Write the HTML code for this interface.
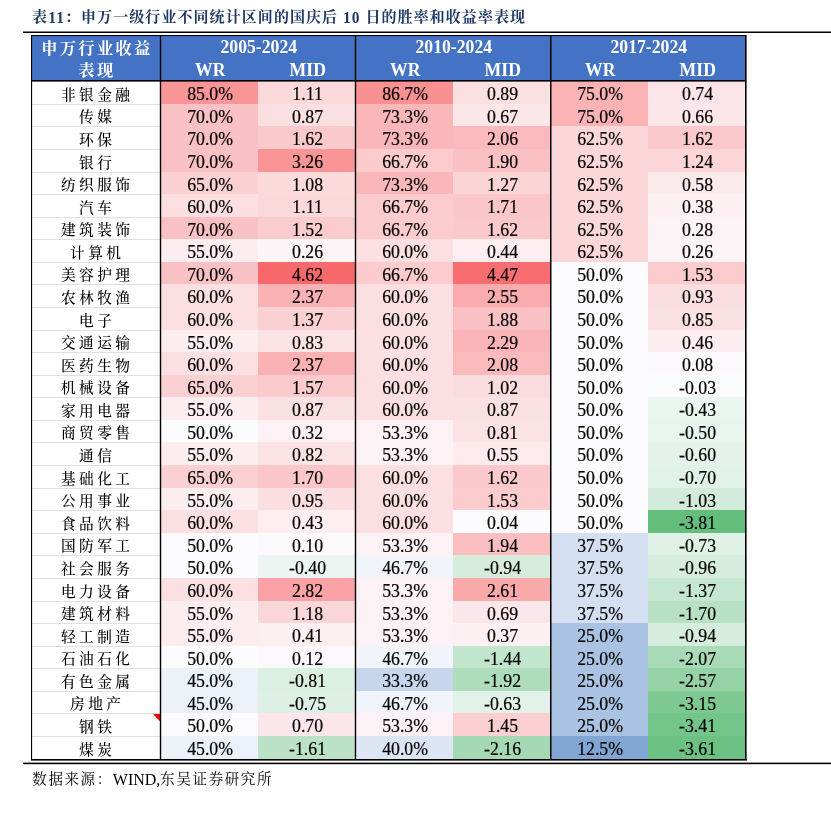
<!DOCTYPE html>
<html lang="zh-CN"><head><meta charset="utf-8"><title>表11</title>
<style>
html,body{margin:0;padding:0;background:#fff;}
body{width:831px;height:822px;position:relative;overflow:hidden;font-family:"Liberation Serif","Noto Serif CJK SC",serif;color:#000;}
.a{position:absolute;}
.title{left:32.1px;top:7.1px;font-size:15px;font-weight:700;color:#1f3864;white-space:nowrap;line-height:20px;letter-spacing:1.07px;}
.c{position:absolute;text-align:center;white-space:nowrap;font-size:17.8px;-webkit-text-stroke:0.2px #000;}
.c span{display:inline-block;position:relative;left:1.1px;top:2.0px;transform:scaleY(1.03);}
.n{position:absolute;text-align:center;white-space:nowrap;font-size:14.7px;letter-spacing:3.45px;background:#fff;font-weight:500;}
.n span{margin-right:-3.45px;display:inline-block;position:relative;top:3px;}
.h{position:absolute;background:#4472c4;}
.ht{position:absolute;color:#fff;font-weight:bold;text-align:center;white-space:nowrap;font-size:17.7px;line-height:20px;height:20px;}
.hc{font-size:16.3px;letter-spacing:2.3px;}
.hc span{margin-right:-2.3px;}
.ht .s{display:inline-block;transform:scaleY(1.06);}
.l{position:absolute;background:#000;}
.g{position:absolute;background:#e0e0e0;height:1px;}
.title .d{display:inline-block;position:relative;top:0.9px;font-size:15.5px;transform:scaleY(1.13);transform-origin:50% 78%;}
.src{left:32.3px;top:769.4px;font-size:14.5px;line-height:20px;white-space:nowrap;letter-spacing:1.6px;}
.src .w{font-size:16px;letter-spacing:0;position:relative;top:0.6px;}
</style></head><body>

<div class="a title">表<span class="d">11</span>：申万一级行业不同统计区间的国庆后 <span class="d">10</span> 日的胜率和收益率表现</div>
<div class="l" style="left:23px;top:31px;width:808px;height:1px;opacity:0.5"></div>
<div class="l" style="left:23px;top:32px;width:808px;height:1px"></div>
<div class="h" style="left:31px;top:35px;width:715px;height:46px"></div>
<div class="ht hc" style="left:31.3px;top:39px;width:129px"><span>申万行业收益</span></div>
<div class="ht hc" style="left:31.3px;top:61.2px;width:129px"><span>表现</span></div>
<div class="ht" style="left:161.3px;top:36.6px;width:195px"><span class="s">2005-2024</span></div>
<div class="ht" style="left:161.3px;top:59.599999999999994px;width:98px"><span class="s">WR</span></div>
<div class="ht" style="left:259.3px;top:59.599999999999994px;width:97px"><span class="s">MID</span></div>
<div class="ht" style="left:356.3px;top:36.6px;width:195px"><span class="s">2010-2024</span></div>
<div class="ht" style="left:356.3px;top:59.599999999999994px;width:98px"><span class="s">WR</span></div>
<div class="ht" style="left:454.3px;top:59.599999999999994px;width:97px"><span class="s">MID</span></div>
<div class="ht" style="left:551.3px;top:36.6px;width:195px"><span class="s">2017-2024</span></div>
<div class="ht" style="left:551.3px;top:59.599999999999994px;width:98px"><span class="s">WR</span></div>
<div class="ht" style="left:649.3px;top:59.599999999999994px;width:97px"><span class="s">MID</span></div>
<div class="n" style="left:31px;top:81px;width:129px;height:23px;line-height:22px"><span>非银金融</span></div>
<div class="c" style="left:160px;top:81px;width:98px;height:23px;line-height:23px;background:rgb(249,149,151)"><span>85.0%</span></div>
<div class="c" style="left:258px;top:81px;width:97px;height:23px;line-height:23px;background:rgb(251,217,219)"><span>1.11</span></div>
<div class="c" style="left:355px;top:81px;width:98px;height:23px;line-height:23px;background:rgb(249,144,146)"><span>86.7%</span></div>
<div class="c" style="left:453px;top:81px;width:97px;height:23px;line-height:23px;background:rgb(251,224,226)"><span>0.89</span></div>
<div class="c" style="left:550px;top:81px;width:98px;height:23px;line-height:23px;background:rgb(250,178,181)"><span>75.0%</span></div>
<div class="c" style="left:648px;top:81px;width:97px;height:23px;line-height:23px;background:rgb(251,228,231)"><span>0.74</span></div>
<div class="n" style="left:31px;top:104px;width:129px;height:22px;line-height:21px"><span>传媒</span></div>
<div class="c" style="left:160px;top:104px;width:98px;height:22px;line-height:22px;background:rgb(250,193,196)"><span>70.0%</span></div>
<div class="c" style="left:258px;top:104px;width:97px;height:22px;line-height:22px;background:rgb(251,224,227)"><span>0.87</span></div>
<div class="c" style="left:355px;top:104px;width:98px;height:22px;line-height:22px;background:rgb(250,183,186)"><span>73.3%</span></div>
<div class="c" style="left:453px;top:104px;width:97px;height:22px;line-height:22px;background:rgb(251,231,234)"><span>0.67</span></div>
<div class="c" style="left:550px;top:104px;width:98px;height:22px;line-height:22px;background:rgb(250,178,181)"><span>75.0%</span></div>
<div class="c" style="left:648px;top:104px;width:97px;height:22px;line-height:22px;background:rgb(251,231,234)"><span>0.66</span></div>
<div class="n" style="left:31px;top:126px;width:129px;height:23px;line-height:22px"><span>环保</span></div>
<div class="c" style="left:160px;top:126px;width:98px;height:23px;line-height:23px;background:rgb(250,193,196)"><span>70.0%</span></div>
<div class="c" style="left:258px;top:126px;width:97px;height:23px;line-height:23px;background:rgb(251,200,203)"><span>1.62</span></div>
<div class="c" style="left:355px;top:126px;width:98px;height:23px;line-height:23px;background:rgb(250,183,186)"><span>73.3%</span></div>
<div class="c" style="left:453px;top:126px;width:97px;height:23px;line-height:23px;background:rgb(250,186,189)"><span>2.06</span></div>
<div class="c" style="left:550px;top:126px;width:98px;height:23px;line-height:23px;background:rgb(251,215,218)"><span>62.5%</span></div>
<div class="c" style="left:648px;top:126px;width:97px;height:23px;line-height:23px;background:rgb(251,200,203)"><span>1.62</span></div>
<div class="n" style="left:31px;top:149px;width:129px;height:23px;line-height:22px"><span>银行</span></div>
<div class="c" style="left:160px;top:149px;width:98px;height:23px;line-height:23px;background:rgb(250,193,196)"><span>70.0%</span></div>
<div class="c" style="left:258px;top:149px;width:97px;height:23px;line-height:23px;background:rgb(249,148,151)"><span>3.26</span></div>
<div class="c" style="left:355px;top:149px;width:98px;height:23px;line-height:23px;background:rgb(251,203,206)"><span>66.7%</span></div>
<div class="c" style="left:453px;top:149px;width:97px;height:23px;line-height:23px;background:rgb(250,192,194)"><span>1.90</span></div>
<div class="c" style="left:550px;top:149px;width:98px;height:23px;line-height:23px;background:rgb(251,215,218)"><span>62.5%</span></div>
<div class="c" style="left:648px;top:149px;width:97px;height:23px;line-height:23px;background:rgb(251,213,215)"><span>1.24</span></div>
<div class="n" style="left:31px;top:172px;width:129px;height:22px;line-height:21px"><span>纺织服饰</span></div>
<div class="c" style="left:160px;top:172px;width:98px;height:22px;line-height:22px;background:rgb(251,208,211)"><span>65.0%</span></div>
<div class="c" style="left:258px;top:172px;width:97px;height:22px;line-height:22px;background:rgb(251,218,220)"><span>1.08</span></div>
<div class="c" style="left:355px;top:172px;width:98px;height:22px;line-height:22px;background:rgb(250,183,186)"><span>73.3%</span></div>
<div class="c" style="left:453px;top:172px;width:97px;height:22px;line-height:22px;background:rgb(251,212,214)"><span>1.27</span></div>
<div class="c" style="left:550px;top:172px;width:98px;height:22px;line-height:22px;background:rgb(251,215,218)"><span>62.5%</span></div>
<div class="c" style="left:648px;top:172px;width:97px;height:22px;line-height:22px;background:rgb(251,234,236)"><span>0.58</span></div>
<div class="n" style="left:31px;top:194px;width:129px;height:23px;line-height:22px"><span>汽车</span></div>
<div class="c" style="left:160px;top:194px;width:98px;height:23px;line-height:23px;background:rgb(251,223,225)"><span>60.0%</span></div>
<div class="c" style="left:258px;top:194px;width:97px;height:23px;line-height:23px;background:rgb(251,217,219)"><span>1.11</span></div>
<div class="c" style="left:355px;top:194px;width:98px;height:23px;line-height:23px;background:rgb(251,203,206)"><span>66.7%</span></div>
<div class="c" style="left:453px;top:194px;width:97px;height:23px;line-height:23px;background:rgb(251,198,200)"><span>1.71</span></div>
<div class="c" style="left:550px;top:194px;width:98px;height:23px;line-height:23px;background:rgb(251,215,218)"><span>62.5%</span></div>
<div class="c" style="left:648px;top:194px;width:97px;height:23px;line-height:23px;background:rgb(252,240,243)"><span>0.38</span></div>
<div class="n" style="left:31px;top:217px;width:129px;height:22px;line-height:21px"><span>建筑装饰</span></div>
<div class="c" style="left:160px;top:217px;width:98px;height:22px;line-height:22px;background:rgb(250,193,196)"><span>70.0%</span></div>
<div class="c" style="left:258px;top:217px;width:97px;height:22px;line-height:22px;background:rgb(251,204,206)"><span>1.52</span></div>
<div class="c" style="left:355px;top:217px;width:98px;height:22px;line-height:22px;background:rgb(251,203,206)"><span>66.7%</span></div>
<div class="c" style="left:453px;top:217px;width:97px;height:22px;line-height:22px;background:rgb(251,200,203)"><span>1.62</span></div>
<div class="c" style="left:550px;top:217px;width:98px;height:22px;line-height:22px;background:rgb(251,215,218)"><span>62.5%</span></div>
<div class="c" style="left:648px;top:217px;width:97px;height:22px;line-height:22px;background:rgb(252,243,246)"><span>0.28</span></div>
<div class="n" style="left:31px;top:239px;width:129px;height:23px;line-height:22px"><span>计算机</span></div>
<div class="c" style="left:160px;top:239px;width:98px;height:23px;line-height:23px;background:rgb(252,237,240)"><span>55.0%</span></div>
<div class="c" style="left:258px;top:239px;width:97px;height:23px;line-height:23px;background:rgb(252,244,247)"><span>0.26</span></div>
<div class="c" style="left:355px;top:239px;width:98px;height:23px;line-height:23px;background:rgb(251,223,225)"><span>60.0%</span></div>
<div class="c" style="left:453px;top:239px;width:97px;height:23px;line-height:23px;background:rgb(252,238,241)"><span>0.44</span></div>
<div class="c" style="left:550px;top:239px;width:98px;height:23px;line-height:23px;background:rgb(251,215,218)"><span>62.5%</span></div>
<div class="c" style="left:648px;top:239px;width:97px;height:23px;line-height:23px;background:rgb(252,244,247)"><span>0.26</span></div>
<div class="n" style="left:31px;top:262px;width:129px;height:22px;line-height:21px"><span>美容护理</span></div>
<div class="c" style="left:160px;top:262px;width:98px;height:22px;line-height:22px;background:rgb(250,193,196)"><span>70.0%</span></div>
<div class="c" style="left:258px;top:262px;width:97px;height:22px;line-height:22px;background:rgb(248,105,107)"><span>4.62</span></div>
<div class="c" style="left:355px;top:262px;width:98px;height:22px;line-height:22px;background:rgb(251,203,206)"><span>66.7%</span></div>
<div class="c" style="left:453px;top:262px;width:97px;height:22px;line-height:22px;background:rgb(248,110,112)"><span>4.47</span></div>
<div class="c" style="left:550px;top:262px;width:98px;height:22px;line-height:22px;background:rgb(252,252,255)"><span>50.0%</span></div>
<div class="c" style="left:648px;top:262px;width:97px;height:22px;line-height:22px;background:rgb(251,203,206)"><span>1.53</span></div>
<div class="n" style="left:31px;top:284px;width:129px;height:23px;line-height:22px"><span>农林牧渔</span></div>
<div class="c" style="left:160px;top:284px;width:98px;height:23px;line-height:23px;background:rgb(251,223,225)"><span>60.0%</span></div>
<div class="c" style="left:258px;top:284px;width:97px;height:23px;line-height:23px;background:rgb(250,177,179)"><span>2.37</span></div>
<div class="c" style="left:355px;top:284px;width:98px;height:23px;line-height:23px;background:rgb(251,223,225)"><span>60.0%</span></div>
<div class="c" style="left:453px;top:284px;width:97px;height:23px;line-height:23px;background:rgb(250,171,173)"><span>2.55</span></div>
<div class="c" style="left:550px;top:284px;width:98px;height:23px;line-height:23px;background:rgb(252,252,255)"><span>50.0%</span></div>
<div class="c" style="left:648px;top:284px;width:97px;height:23px;line-height:23px;background:rgb(251,222,225)"><span>0.93</span></div>
<div class="n" style="left:31px;top:307px;width:129px;height:23px;line-height:22px"><span>电子</span></div>
<div class="c" style="left:160px;top:307px;width:98px;height:23px;line-height:23px;background:rgb(251,223,225)"><span>60.0%</span></div>
<div class="c" style="left:258px;top:307px;width:97px;height:23px;line-height:23px;background:rgb(251,208,211)"><span>1.37</span></div>
<div class="c" style="left:355px;top:307px;width:98px;height:23px;line-height:23px;background:rgb(251,223,225)"><span>60.0%</span></div>
<div class="c" style="left:453px;top:307px;width:97px;height:23px;line-height:23px;background:rgb(250,192,195)"><span>1.88</span></div>
<div class="c" style="left:550px;top:307px;width:98px;height:23px;line-height:23px;background:rgb(252,252,255)"><span>50.0%</span></div>
<div class="c" style="left:648px;top:307px;width:97px;height:23px;line-height:23px;background:rgb(251,225,228)"><span>0.85</span></div>
<div class="n" style="left:31px;top:330px;width:129px;height:22px;line-height:21px"><span>交通运输</span></div>
<div class="c" style="left:160px;top:330px;width:98px;height:22px;line-height:22px;background:rgb(252,237,240)"><span>55.0%</span></div>
<div class="c" style="left:258px;top:330px;width:97px;height:22px;line-height:22px;background:rgb(251,226,228)"><span>0.83</span></div>
<div class="c" style="left:355px;top:330px;width:98px;height:22px;line-height:22px;background:rgb(251,223,225)"><span>60.0%</span></div>
<div class="c" style="left:453px;top:330px;width:97px;height:22px;line-height:22px;background:rgb(250,179,182)"><span>2.29</span></div>
<div class="c" style="left:550px;top:330px;width:98px;height:22px;line-height:22px;background:rgb(252,252,255)"><span>50.0%</span></div>
<div class="c" style="left:648px;top:330px;width:97px;height:22px;line-height:22px;background:rgb(252,237,240)"><span>0.46</span></div>
<div class="n" style="left:31px;top:352px;width:129px;height:23px;line-height:22px"><span>医药生物</span></div>
<div class="c" style="left:160px;top:352px;width:98px;height:23px;line-height:23px;background:rgb(251,223,225)"><span>60.0%</span></div>
<div class="c" style="left:258px;top:352px;width:97px;height:23px;line-height:23px;background:rgb(250,177,179)"><span>2.37</span></div>
<div class="c" style="left:355px;top:352px;width:98px;height:23px;line-height:23px;background:rgb(251,223,225)"><span>60.0%</span></div>
<div class="c" style="left:453px;top:352px;width:97px;height:23px;line-height:23px;background:rgb(250,186,188)"><span>2.08</span></div>
<div class="c" style="left:550px;top:352px;width:98px;height:23px;line-height:23px;background:rgb(252,252,255)"><span>50.0%</span></div>
<div class="c" style="left:648px;top:352px;width:97px;height:23px;line-height:23px;background:rgb(252,249,252)"><span>0.08</span></div>
<div class="n" style="left:31px;top:375px;width:129px;height:22px;line-height:21px"><span>机械设备</span></div>
<div class="c" style="left:160px;top:375px;width:98px;height:22px;line-height:22px;background:rgb(251,208,211)"><span>65.0%</span></div>
<div class="c" style="left:258px;top:375px;width:97px;height:22px;line-height:22px;background:rgb(251,202,205)"><span>1.57</span></div>
<div class="c" style="left:355px;top:375px;width:98px;height:22px;line-height:22px;background:rgb(251,223,225)"><span>60.0%</span></div>
<div class="c" style="left:453px;top:375px;width:97px;height:22px;line-height:22px;background:rgb(251,220,222)"><span>1.02</span></div>
<div class="c" style="left:550px;top:375px;width:98px;height:22px;line-height:22px;background:rgb(252,252,255)"><span>50.0%</span></div>
<div class="c" style="left:648px;top:375px;width:97px;height:22px;line-height:22px;background:rgb(251,252,254)"><span>-0.03</span></div>
<div class="n" style="left:31px;top:397px;width:129px;height:23px;line-height:22px"><span>家用电器</span></div>
<div class="c" style="left:160px;top:397px;width:98px;height:23px;line-height:23px;background:rgb(252,237,240)"><span>55.0%</span></div>
<div class="c" style="left:258px;top:397px;width:97px;height:23px;line-height:23px;background:rgb(251,224,227)"><span>0.87</span></div>
<div class="c" style="left:355px;top:397px;width:98px;height:23px;line-height:23px;background:rgb(251,223,225)"><span>60.0%</span></div>
<div class="c" style="left:453px;top:397px;width:97px;height:23px;line-height:23px;background:rgb(251,224,227)"><span>0.87</span></div>
<div class="c" style="left:550px;top:397px;width:98px;height:23px;line-height:23px;background:rgb(252,252,255)"><span>50.0%</span></div>
<div class="c" style="left:648px;top:397px;width:97px;height:23px;line-height:23px;background:rgb(235,245,240)"><span>-0.43</span></div>
<div class="n" style="left:31px;top:420px;width:129px;height:22px;line-height:21px"><span>商贸零售</span></div>
<div class="c" style="left:160px;top:420px;width:98px;height:22px;line-height:22px;background:rgb(252,252,255)"><span>50.0%</span></div>
<div class="c" style="left:258px;top:420px;width:97px;height:22px;line-height:22px;background:rgb(252,242,245)"><span>0.32</span></div>
<div class="c" style="left:355px;top:420px;width:98px;height:22px;line-height:22px;background:rgb(252,242,245)"><span>53.3%</span></div>
<div class="c" style="left:453px;top:420px;width:97px;height:22px;line-height:22px;background:rgb(251,226,229)"><span>0.81</span></div>
<div class="c" style="left:550px;top:420px;width:98px;height:22px;line-height:22px;background:rgb(252,252,255)"><span>50.0%</span></div>
<div class="c" style="left:648px;top:420px;width:97px;height:22px;line-height:22px;background:rgb(232,244,238)"><span>-0.50</span></div>
<div class="n" style="left:31px;top:442px;width:129px;height:23px;line-height:22px"><span>通信</span></div>
<div class="c" style="left:160px;top:442px;width:98px;height:23px;line-height:23px;background:rgb(252,237,240)"><span>55.0%</span></div>
<div class="c" style="left:258px;top:442px;width:97px;height:23px;line-height:23px;background:rgb(251,226,229)"><span>0.82</span></div>
<div class="c" style="left:355px;top:442px;width:98px;height:23px;line-height:23px;background:rgb(252,242,245)"><span>53.3%</span></div>
<div class="c" style="left:453px;top:442px;width:97px;height:23px;line-height:23px;background:rgb(252,234,237)"><span>0.55</span></div>
<div class="c" style="left:550px;top:442px;width:98px;height:23px;line-height:23px;background:rgb(252,252,255)"><span>50.0%</span></div>
<div class="c" style="left:648px;top:442px;width:97px;height:23px;line-height:23px;background:rgb(228,242,234)"><span>-0.60</span></div>
<div class="n" style="left:31px;top:465px;width:129px;height:23px;line-height:22px"><span>基础化工</span></div>
<div class="c" style="left:160px;top:465px;width:98px;height:23px;line-height:23px;background:rgb(251,208,211)"><span>65.0%</span></div>
<div class="c" style="left:258px;top:465px;width:97px;height:23px;line-height:23px;background:rgb(251,198,201)"><span>1.70</span></div>
<div class="c" style="left:355px;top:465px;width:98px;height:23px;line-height:23px;background:rgb(251,223,225)"><span>60.0%</span></div>
<div class="c" style="left:453px;top:465px;width:97px;height:23px;line-height:23px;background:rgb(251,200,203)"><span>1.62</span></div>
<div class="c" style="left:550px;top:465px;width:98px;height:23px;line-height:23px;background:rgb(252,252,255)"><span>50.0%</span></div>
<div class="c" style="left:648px;top:465px;width:97px;height:23px;line-height:23px;background:rgb(224,241,231)"><span>-0.70</span></div>
<div class="n" style="left:31px;top:488px;width:129px;height:22px;line-height:21px"><span>公用事业</span></div>
<div class="c" style="left:160px;top:488px;width:98px;height:22px;line-height:22px;background:rgb(252,237,240)"><span>55.0%</span></div>
<div class="c" style="left:258px;top:488px;width:97px;height:22px;line-height:22px;background:rgb(251,222,225)"><span>0.95</span></div>
<div class="c" style="left:355px;top:488px;width:98px;height:22px;line-height:22px;background:rgb(251,223,225)"><span>60.0%</span></div>
<div class="c" style="left:453px;top:488px;width:97px;height:22px;line-height:22px;background:rgb(251,203,206)"><span>1.53</span></div>
<div class="c" style="left:550px;top:488px;width:98px;height:22px;line-height:22px;background:rgb(252,252,255)"><span>50.0%</span></div>
<div class="c" style="left:648px;top:488px;width:97px;height:22px;line-height:22px;background:rgb(211,235,219)"><span>-1.03</span></div>
<div class="n" style="left:31px;top:510px;width:129px;height:23px;line-height:22px"><span>食品饮料</span></div>
<div class="c" style="left:160px;top:510px;width:98px;height:23px;line-height:23px;background:rgb(251,223,225)"><span>60.0%</span></div>
<div class="c" style="left:258px;top:510px;width:97px;height:23px;line-height:23px;background:rgb(252,238,241)"><span>0.43</span></div>
<div class="c" style="left:355px;top:510px;width:98px;height:23px;line-height:23px;background:rgb(251,223,225)"><span>60.0%</span></div>
<div class="c" style="left:453px;top:510px;width:97px;height:23px;line-height:23px;background:rgb(252,251,254)"><span>0.04</span></div>
<div class="c" style="left:550px;top:510px;width:98px;height:23px;line-height:23px;background:rgb(252,252,255)"><span>50.0%</span></div>
<div class="c" style="left:648px;top:510px;width:97px;height:23px;line-height:23px;background:rgb(99,190,123)"><span>-3.81</span></div>
<div class="n" style="left:31px;top:533px;width:129px;height:22px;line-height:21px"><span>国防军工</span></div>
<div class="c" style="left:160px;top:533px;width:98px;height:22px;line-height:22px;background:rgb(252,252,255)"><span>50.0%</span></div>
<div class="c" style="left:258px;top:533px;width:97px;height:22px;line-height:22px;background:rgb(252,249,252)"><span>0.10</span></div>
<div class="c" style="left:355px;top:533px;width:98px;height:22px;line-height:22px;background:rgb(252,242,245)"><span>53.3%</span></div>
<div class="c" style="left:453px;top:533px;width:97px;height:22px;line-height:22px;background:rgb(250,190,193)"><span>1.94</span></div>
<div class="c" style="left:550px;top:533px;width:98px;height:22px;line-height:22px;background:rgb(212,224,241)"><span>37.5%</span></div>
<div class="c" style="left:648px;top:533px;width:97px;height:22px;line-height:22px;background:rgb(223,240,230)"><span>-0.73</span></div>
<div class="n" style="left:31px;top:555px;width:129px;height:23px;line-height:22px"><span>社会服务</span></div>
<div class="c" style="left:160px;top:555px;width:98px;height:23px;line-height:23px;background:rgb(252,252,255)"><span>50.0%</span></div>
<div class="c" style="left:258px;top:555px;width:97px;height:23px;line-height:23px;background:rgb(236,245,241)"><span>-0.40</span></div>
<div class="c" style="left:355px;top:555px;width:98px;height:23px;line-height:23px;background:rgb(241,244,251)"><span>46.7%</span></div>
<div class="c" style="left:453px;top:555px;width:97px;height:23px;line-height:23px;background:rgb(214,237,222)"><span>-0.94</span></div>
<div class="c" style="left:550px;top:555px;width:98px;height:23px;line-height:23px;background:rgb(212,224,241)"><span>37.5%</span></div>
<div class="c" style="left:648px;top:555px;width:97px;height:23px;line-height:23px;background:rgb(213,236,222)"><span>-0.96</span></div>
<div class="n" style="left:31px;top:578px;width:129px;height:23px;line-height:22px"><span>电力设备</span></div>
<div class="c" style="left:160px;top:578px;width:98px;height:23px;line-height:23px;background:rgb(251,223,225)"><span>60.0%</span></div>
<div class="c" style="left:258px;top:578px;width:97px;height:23px;line-height:23px;background:rgb(250,162,165)"><span>2.82</span></div>
<div class="c" style="left:355px;top:578px;width:98px;height:23px;line-height:23px;background:rgb(252,242,245)"><span>53.3%</span></div>
<div class="c" style="left:453px;top:578px;width:97px;height:23px;line-height:23px;background:rgb(250,169,171)"><span>2.61</span></div>
<div class="c" style="left:550px;top:578px;width:98px;height:23px;line-height:23px;background:rgb(212,224,241)"><span>37.5%</span></div>
<div class="c" style="left:648px;top:578px;width:97px;height:23px;line-height:23px;background:rgb(197,230,208)"><span>-1.37</span></div>
<div class="n" style="left:31px;top:601px;width:129px;height:22px;line-height:21px"><span>建筑材料</span></div>
<div class="c" style="left:160px;top:601px;width:98px;height:22px;line-height:22px;background:rgb(252,237,240)"><span>55.0%</span></div>
<div class="c" style="left:258px;top:601px;width:97px;height:22px;line-height:22px;background:rgb(251,214,217)"><span>1.18</span></div>
<div class="c" style="left:355px;top:601px;width:98px;height:22px;line-height:22px;background:rgb(252,242,245)"><span>53.3%</span></div>
<div class="c" style="left:453px;top:601px;width:97px;height:22px;line-height:22px;background:rgb(251,230,233)"><span>0.69</span></div>
<div class="c" style="left:550px;top:601px;width:98px;height:22px;line-height:22px;background:rgb(212,224,241)"><span>37.5%</span></div>
<div class="c" style="left:648px;top:601px;width:97px;height:22px;line-height:22px;background:rgb(184,224,196)"><span>-1.70</span></div>
<div class="n" style="left:31px;top:623px;width:129px;height:23px;line-height:22px"><span>轻工制造</span></div>
<div class="c" style="left:160px;top:623px;width:98px;height:23px;line-height:23px;background:rgb(252,237,240)"><span>55.0%</span></div>
<div class="c" style="left:258px;top:623px;width:97px;height:23px;line-height:23px;background:rgb(252,239,242)"><span>0.41</span></div>
<div class="c" style="left:355px;top:623px;width:98px;height:23px;line-height:23px;background:rgb(252,242,245)"><span>53.3%</span></div>
<div class="c" style="left:453px;top:623px;width:97px;height:23px;line-height:23px;background:rgb(252,240,243)"><span>0.37</span></div>
<div class="c" style="left:550px;top:623px;width:98px;height:23px;line-height:23px;background:rgb(171,195,226)"><span>25.0%</span></div>
<div class="c" style="left:648px;top:623px;width:97px;height:23px;line-height:23px;background:rgb(214,237,222)"><span>-0.94</span></div>
<div class="n" style="left:31px;top:646px;width:129px;height:22px;line-height:21px"><span>石油石化</span></div>
<div class="c" style="left:160px;top:646px;width:98px;height:22px;line-height:22px;background:rgb(252,252,255)"><span>50.0%</span></div>
<div class="c" style="left:258px;top:646px;width:97px;height:22px;line-height:22px;background:rgb(252,248,251)"><span>0.12</span></div>
<div class="c" style="left:355px;top:646px;width:98px;height:22px;line-height:22px;background:rgb(241,244,251)"><span>46.7%</span></div>
<div class="c" style="left:453px;top:646px;width:97px;height:22px;line-height:22px;background:rgb(194,229,205)"><span>-1.44</span></div>
<div class="c" style="left:550px;top:646px;width:98px;height:22px;line-height:22px;background:rgb(171,195,226)"><span>25.0%</span></div>
<div class="c" style="left:648px;top:646px;width:97px;height:22px;line-height:22px;background:rgb(169,218,183)"><span>-2.07</span></div>
<div class="n" style="left:31px;top:668px;width:129px;height:23px;line-height:22px"><span>有色金属</span></div>
<div class="c" style="left:160px;top:668px;width:98px;height:23px;line-height:23px;background:rgb(236,241,249)"><span>45.0%</span></div>
<div class="c" style="left:258px;top:668px;width:97px;height:23px;line-height:23px;background:rgb(219,239,227)"><span>-0.81</span></div>
<div class="c" style="left:355px;top:668px;width:98px;height:23px;line-height:23px;background:rgb(198,214,236)"><span>33.3%</span></div>
<div class="c" style="left:453px;top:668px;width:97px;height:23px;line-height:23px;background:rgb(175,221,188)"><span>-1.92</span></div>
<div class="c" style="left:550px;top:668px;width:98px;height:23px;line-height:23px;background:rgb(171,195,226)"><span>25.0%</span></div>
<div class="c" style="left:648px;top:668px;width:97px;height:23px;line-height:23px;background:rgb(149,210,166)"><span>-2.57</span></div>
<div class="n" style="left:31px;top:691px;width:129px;height:22px;line-height:21px"><span>房地产</span></div>
<div class="c" style="left:160px;top:691px;width:98px;height:22px;line-height:22px;background:rgb(236,241,249)"><span>45.0%</span></div>
<div class="c" style="left:258px;top:691px;width:97px;height:22px;line-height:22px;background:rgb(222,240,229)"><span>-0.75</span></div>
<div class="c" style="left:355px;top:691px;width:98px;height:22px;line-height:22px;background:rgb(241,244,251)"><span>46.7%</span></div>
<div class="c" style="left:453px;top:691px;width:97px;height:22px;line-height:22px;background:rgb(227,242,233)"><span>-0.63</span></div>
<div class="c" style="left:550px;top:691px;width:98px;height:22px;line-height:22px;background:rgb(171,195,226)"><span>25.0%</span></div>
<div class="c" style="left:648px;top:691px;width:97px;height:22px;line-height:22px;background:rgb(126,201,146)"><span>-3.15</span></div>
<div class="n" style="left:31px;top:713px;width:129px;height:23px;line-height:22px"><span>钢铁</span></div>
<div class="c" style="left:160px;top:713px;width:98px;height:23px;line-height:23px;background:rgb(252,252,255)"><span>50.0%</span></div>
<div class="c" style="left:258px;top:713px;width:97px;height:23px;line-height:23px;background:rgb(251,230,233)"><span>0.70</span></div>
<div class="c" style="left:355px;top:713px;width:98px;height:23px;line-height:23px;background:rgb(252,242,245)"><span>53.3%</span></div>
<div class="c" style="left:453px;top:713px;width:97px;height:23px;line-height:23px;background:rgb(251,206,209)"><span>1.45</span></div>
<div class="c" style="left:550px;top:713px;width:98px;height:23px;line-height:23px;background:rgb(171,195,226)"><span>25.0%</span></div>
<div class="c" style="left:648px;top:713px;width:97px;height:23px;line-height:23px;background:rgb(115,197,137)"><span>-3.41</span></div>
<div class="n" style="left:31px;top:736px;width:129px;height:23px;line-height:22px"><span>煤炭</span></div>
<div class="c" style="left:160px;top:736px;width:98px;height:23px;line-height:23px;background:rgb(236,241,249)"><span>45.0%</span></div>
<div class="c" style="left:258px;top:736px;width:97px;height:23px;line-height:23px;background:rgb(187,226,199)"><span>-1.61</span></div>
<div class="c" style="left:355px;top:736px;width:98px;height:23px;line-height:23px;background:rgb(220,229,244)"><span>40.0%</span></div>
<div class="c" style="left:453px;top:736px;width:97px;height:23px;line-height:23px;background:rgb(165,217,180)"><span>-2.16</span></div>
<div class="c" style="left:550px;top:736px;width:98px;height:23px;line-height:23px;background:rgb(130,166,212)"><span>12.5%</span></div>
<div class="c" style="left:648px;top:736px;width:97px;height:23px;line-height:23px;background:rgb(107,193,130)"><span>-3.61</span></div>
<div class="g" style="left:31px;top:104px;width:129px"></div>
<div class="g" style="left:31px;top:126px;width:129px"></div>
<div class="g" style="left:31px;top:149px;width:129px"></div>
<div class="g" style="left:31px;top:172px;width:129px"></div>
<div class="g" style="left:31px;top:194px;width:129px"></div>
<div class="g" style="left:31px;top:217px;width:129px"></div>
<div class="g" style="left:31px;top:239px;width:129px"></div>
<div class="g" style="left:31px;top:262px;width:129px"></div>
<div class="g" style="left:31px;top:284px;width:129px"></div>
<div class="g" style="left:31px;top:307px;width:129px"></div>
<div class="g" style="left:31px;top:330px;width:129px"></div>
<div class="g" style="left:31px;top:352px;width:129px"></div>
<div class="g" style="left:31px;top:375px;width:129px"></div>
<div class="g" style="left:31px;top:397px;width:129px"></div>
<div class="g" style="left:31px;top:420px;width:129px"></div>
<div class="g" style="left:31px;top:442px;width:129px"></div>
<div class="g" style="left:31px;top:465px;width:129px"></div>
<div class="g" style="left:31px;top:488px;width:129px"></div>
<div class="g" style="left:31px;top:510px;width:129px"></div>
<div class="g" style="left:31px;top:533px;width:129px"></div>
<div class="g" style="left:31px;top:555px;width:129px"></div>
<div class="g" style="left:31px;top:578px;width:129px"></div>
<div class="g" style="left:31px;top:601px;width:129px"></div>
<div class="g" style="left:31px;top:623px;width:129px"></div>
<div class="g" style="left:31px;top:646px;width:129px"></div>
<div class="g" style="left:31px;top:668px;width:129px"></div>
<div class="g" style="left:31px;top:691px;width:129px"></div>
<div class="g" style="left:31px;top:713px;width:129px"></div>
<div class="g" style="left:31px;top:736px;width:129px"></div>
<svg class="a" style="left:153.2px;top:713.8px" width="7" height="7.4" viewBox="0 0 7 7.4"><polygon points="0,0 7,0 7,7.4" fill="#f00"/></svg>
<div class="l" style="left:31px;top:35px;width:1px;height:725px"></div>
<div class="l" style="left:32px;top:35px;width:1px;height:725px;opacity:0.1"></div>
<div class="l" style="left:159px;top:35px;width:1px;height:725px;opacity:0.2"></div>
<div class="l" style="left:160px;top:35px;width:1px;height:725px"></div>
<div class="l" style="left:161px;top:35px;width:1px;height:725px;opacity:0.2"></div>
<div class="l" style="left:354px;top:35px;width:1px;height:725px;opacity:0.2"></div>
<div class="l" style="left:355px;top:35px;width:1px;height:725px"></div>
<div class="l" style="left:356px;top:35px;width:1px;height:725px;opacity:0.2"></div>
<div class="l" style="left:550px;top:35px;width:1px;height:725px"></div>
<div class="l" style="left:551px;top:35px;width:1px;height:725px;opacity:0.5"></div>
<div class="l" style="left:745px;top:35px;width:1px;height:725px"></div>
<div class="l" style="left:746px;top:35px;width:1px;height:725px;opacity:0.6"></div>
<div class="l" style="left:31px;top:35px;width:715px;height:1px"></div>
<div class="l" style="left:31px;top:36px;width:715px;height:1px;opacity:0.1"></div>
<div class="l" style="left:31px;top:80px;width:715px;height:1px"></div>
<div class="l" style="left:31px;top:81px;width:715px;height:1px;opacity:0.6"></div>
<div class="l" style="left:31px;top:759px;width:716px;height:1px"></div>
<div class="l" style="left:31px;top:760px;width:716px;height:1px;opacity:0.6"></div>
<div class="l" style="left:23px;top:762px;width:808px;height:1px;opacity:0.4"></div>
<div class="l" style="left:23px;top:763px;width:808px;height:1px"></div>
<div class="l" style="left:23px;top:764px;width:808px;height:1px;opacity:0.2"></div>
<div class="a src">数据来源：<span class="w">WIND,</span>东吴证券研究所</div>
</body></html>
